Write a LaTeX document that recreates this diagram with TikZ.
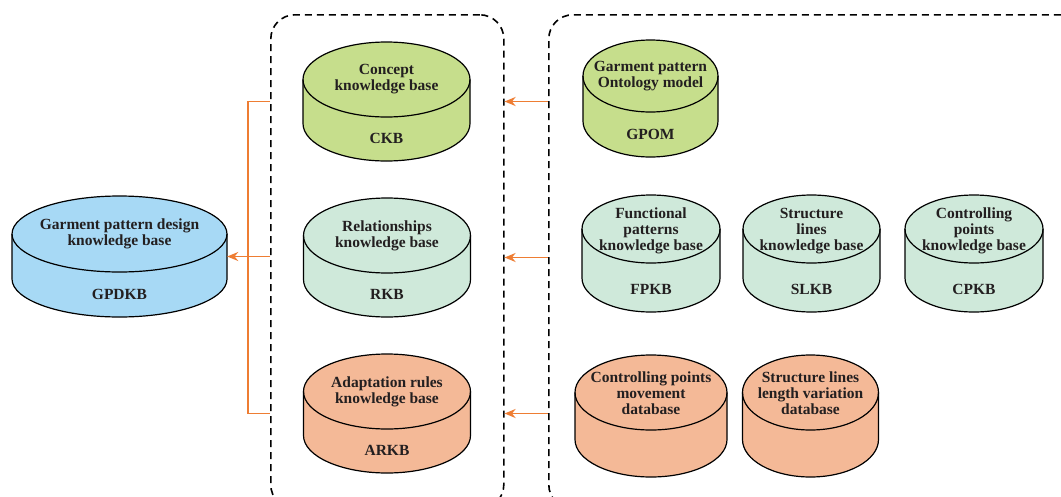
\documentclass[tikz,border=0pt]{standalone}
\usepackage{fontspec}
\setmainfont{Liberation Serif}
\usetikzlibrary{arrows.meta}
\definecolor{cgreen}{HTML}{C6DE8C}
\definecolor{cteal}{HTML}{CFE9DA}
\definecolor{corange}{HTML}{F4B997}
\definecolor{cblue}{HTML}{A7D9F5}
\definecolor{cline}{HTML}{EE7D33}
\definecolor{ctext}{HTML}{231F20}
\tikzset{
  cylline/.style={draw=black, line width=1.2pt},
  dbtext/.style={font=\bfseries\fontsize{15.5}{16}\selectfont, text=ctext, align=center, inner sep=0pt},
  groupbox/.style={draw=black, line width=1.6pt, dash pattern=on 7pt off 5pt, rounded corners=24pt, inner sep=0pt},
  flow/.style={draw=cline, line width=1.8pt},
  flowarrow/.style={flow, -{Stealth[length=11pt,width=9pt]}},
}
% name, cx, top(px), rx, ry, h, fill
\newcommand\dbcyl[7]{%
  \pgfmathsetmacro\cyYt{-(#3+#5)}%
  \pgfmathsetmacro\cyYb{-(#3+#5+#6)}%
  \pgfmathsetmacro\cyYm{-(#3+#5+#6/2)}%
  \filldraw[cylline, fill=#7] (#2-#4,\cyYt) -- (#2-#4,\cyYb)
    arc[start angle=180,end angle=360,x radius=#4pt,y radius=#5pt]
    -- (#2+#4,\cyYt)
    arc[start angle=0,end angle=180,x radius=#4pt,y radius=#5pt] -- cycle;
  \draw[cylline] (#2-#4,\cyYt)
    arc[start angle=180,end angle=360,x radius=#4pt,y radius=#5pt];
  \node[inner sep=0pt, minimum width={(2*#4)*1pt}, minimum height={(2*#5+#6)*1pt}] (#1) at (#2,\cyYm) {};
  \coordinate (#1-top) at (#2,\cyYt);
  \coordinate (#1-bot) at (#2,\cyYb-#5+23);
}
\begin{document}
\begin{tikzpicture}[x=1pt,y=1pt]
\useasboundingbox (0,0) rectangle (1061,-496);
\fill[white] (0,0) rectangle (1061,-496);

% group boxes
\node[groupbox, minimum width=233pt, minimum height=494pt, anchor=north west] (leftbox) at (270,-14) {};
\node[groupbox, minimum width=560pt, minimum height=494pt, anchor=north west] (rightbox) at (548,-14) {};

% knowledge bases
\dbcyl{gpdkb}{119.5}{196}{107.5}{38}{45}{cblue}
\node[dbtext] (gpdkbt) at (gpdkb-top) {Garment pattern design\\knowledge base};
\node[dbtext] (gpdkbl) at (gpdkb-bot) {GPDKB};

\dbcyl{ckb}{386.5}{42}{83.5}{37.5}{44}{cgreen}
\node[dbtext] (ckbt) at (ckb-top) {Concept\\knowledge base};
\node[dbtext] (ckbl) at (ckb-bot) {CKB};

\dbcyl{rkb}{387}{198}{83.5}{37.5}{44}{cteal}
\node[dbtext] (rkbt) at (rkb-top) {Relationships\\knowledge base};
\node[dbtext] (rkbl) at (rkb-bot) {RKB};

\dbcyl{arkb}{387}{354}{83.5}{37.5}{44}{corange}
\node[dbtext] (arkbt) at (arkb-top) {Adaptation rules\\knowledge base};
\node[dbtext] (arkbl) at (arkb-bot) {ARKB};

\dbcyl{gpom}{650.5}{40}{67.5}{36}{45}{cgreen}
\node[dbtext] (gpomt) at (gpom-top) {Garment pattern\\Ontology model};
\node[dbtext] (gpoml) at (gpom-bot) {GPOM};

\dbcyl{fpkb}{651}{195}{69}{34}{49}{cteal}
\node[dbtext] (fpkbt) at ([yshift=-2pt]fpkb-top) {Functional\\patterns\\knowledge base};
\node[dbtext] (fpkbl) at (fpkb-bot) {FPKB};

\dbcyl{slkb}{811.5}{195}{68.5}{34}{49}{cteal}
\node[dbtext] (slkbt) at ([yshift=-2pt]slkb-top) {Structure\\lines\\knowledge base};
\node[dbtext] (slkbl) at (slkb-bot) {SLKB};

\dbcyl{cpkb}{974}{195}{69}{34}{49}{cteal}
\node[dbtext] (cpkbt) at ([yshift=-2pt]cpkb-top) {Controlling\\points\\knowledge base};
\node[dbtext] (cpkbl) at (cpkb-bot) {CPKB};

\dbcyl{cpmd}{651}{355}{76}{37.5}{47}{corange}
\node[dbtext] (cpmdt) at ([yshift=-1pt]cpmd-top) {Controlling points\\movement\\database};

\dbcyl{sllvd}{810.5}{355}{68}{37.5}{47}{corange}
\node[dbtext] (sllvdt) at ([yshift=-1pt]sllvd-top) {Structure lines\\length variation\\database};

% connectors right box -> left box
\draw[flowarrow] (rightbox.west |- ckb.center) -- (leftbox.east |- ckb.center);
\draw[flowarrow] (rightbox.west |- rkb.center) -- (leftbox.east |- rkb.center);
\draw[flowarrow] (rightbox.west |- arkb.center) -- (leftbox.east |- arkb.center);

% bracket left box -> GPDKB
\coordinate (bus) at (248,-257);
\draw[flow] (leftbox.west |- ckb.center) -| (bus) |- (leftbox.west |- arkb.center);
\draw[flowarrow] (leftbox.west |- gpdkb.center) -- (gpdkb.east);
\end{tikzpicture}
\end{document}
